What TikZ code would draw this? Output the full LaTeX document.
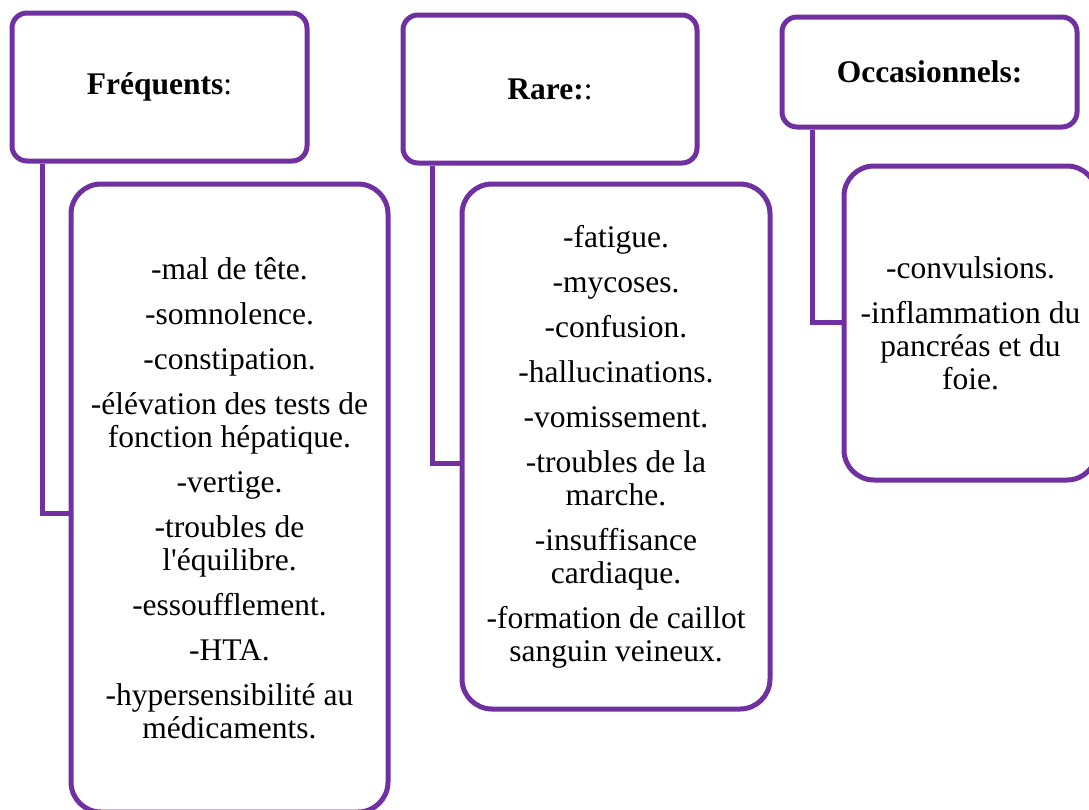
\documentclass[tikz,border=0pt]{standalone}
\usepackage{fontspec}
\setmainfont{Liberation Serif}[Ligatures=TeXOff]
\definecolor{purp}{HTML}{7030A0}
\begin{document}
\begin{tikzpicture}[x=1pt,y=-1pt,
  box/.style={draw=purp, line width=5pt, align=center, inner sep=0pt,
    font=\fontsize{31.5}{33}\selectfont},
  head/.style={box, rounded corners=15pt},
  body/.style={box, rounded corners=30pt},
  conn/.style={draw=purp, line width=5pt}]
\useasboundingbox (0,0) rectangle (1089,809);
% headers
\node[head, minimum width=295pt, minimum height=148pt] (h1) at (159.5,87) {\textbf{Fréquents}:};
\node[head, minimum width=294pt, minimum height=148pt] (h2) at (550,89) {\textbf{Rare:}:};
\node[head, minimum width=295pt, minimum height=110pt] (h3) at (929.5,72) {\textbf{Occasionnels:}};
% bodies
\node[body, minimum width=317pt, minimum height=628pt] (b1) at (229.5,498)
  {-mal de tête.\\[12pt]-somnolence.\\[12pt]-constipation.\\[12pt]-élévation des tests de\\fonction hépatique.\\[12pt]-vertige.\\[12pt]-troubles de\\l'équilibre.\\[12pt]-essoufflement.\\[12pt]-HTA.\\[12pt]-hypersensibilité au\\médicaments.};
\node[body, minimum width=308pt, minimum height=525pt] (b2) at (616,446.5)
  {-fatigue.\\[12pt]-mycoses.\\[12pt]-confusion.\\[12pt]-hallucinations.\\[12pt]-vomissement.\\[12pt]-troubles de la\\marche.\\[12pt]-insuffisance\\cardiaque.\\[12pt]-formation de caillot\\sanguin veineux.};
\node[body, minimum width=253pt, minimum height=314pt] (b3) at (970.5,323)
  {-convulsions.\\[12pt]-inflammation du\\pancréas et du\\foie.};
% connectors
\coordinate (c1) at (42,513);
\coordinate (c2) at (432,463);
\coordinate (c3) at (812,322);
\draw[conn] (h1.south -| c1) |- (b1.west |- c1);
\draw[conn] (h2.south -| c2) |- (b2.west |- c2);
\draw[conn] (h3.south -| c3) |- (b3.west |- c3);
\end{tikzpicture}
\end{document}
